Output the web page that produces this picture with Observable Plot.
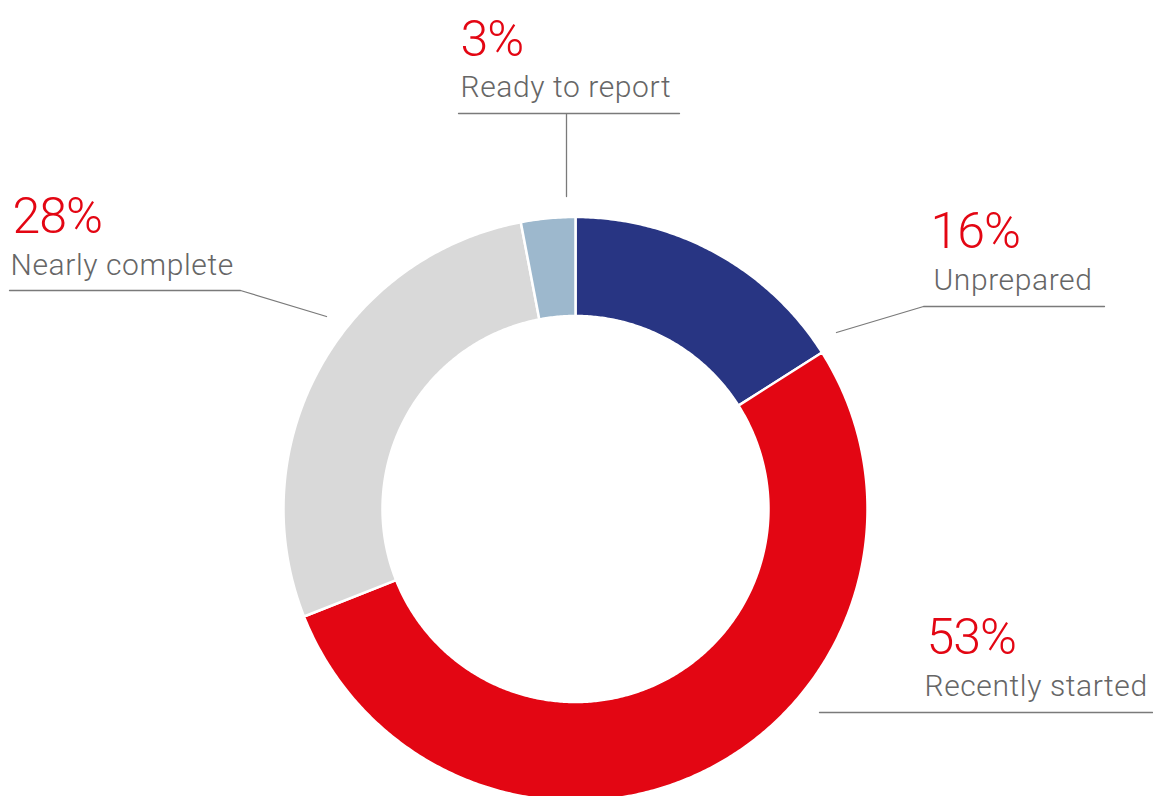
<!DOCTYPE html>
<html>
<head>
<meta charset="utf-8">
<script src="https://cdn.jsdelivr.net/npm/d3@7"></script>
<script src="https://cdn.jsdelivr.net/npm/@observablehq/plot@0.6"></script>
<style>
  html, body { margin: 0; padding: 0; background: #fff; }
  #chart svg { display: block; }
  .pct text { letter-spacing: -1px; }
  .cat text { letter-spacing: 0.6px; }
</style>
</head>
<body>
<div id="chart"></div>
<script>
// ---- Data ----
const categories = ["Unprepared", "Recently started", "Nearly complete", "Ready to report"];
const values = [16, 53, 28, 3];
const percentLabels = ["16%", "53%", "28%", "3%"];
const colors = ["#283583", "#e30613", "#d9d9d9", "#9db8cd"];

// ---- Layout (pixel space) ----
const W = 1153, H = 796;
const cx = 575.5, cy = 509, rOuter = 292, rInner = 193;
const labelPos = {
  "Unprepared":       {x: 930, pctY: 247, txtX: 933, txtY: 289, line: [[1104, 306], [923, 306], [836, 332]]},
  "Recently started": {x: 926, pctY: 653, txtX: 924, txtY: 695, line: [[1152, 712], [819, 712]]},
  "Nearly complete":  {x: 12,  pctY: 232, txtX: 10,  txtY: 274, line: [[9, 290], [240, 290], [326, 316]]},
  "Ready to report":  {x: 460, pctY: 55,  txtX: 460, txtY: 96,  line: [[458, 113], [679, 113], [566, 113], [566, 196]]}
};

const pie = d3.pie().sort(null).startAngle(0).endAngle(2 * Math.PI);
const arcs = pie(values);

// ring segment geometry sampled along each arc
const ring = [];
arcs.forEach((a, i) => {
  const n = Math.max(2, Math.ceil((a.endAngle - a.startAngle) / (Math.PI / 360)));
  for (let k = 0; k <= n; k++) {
    const t = a.startAngle + (a.endAngle - a.startAngle) * k / n;
    ring.push({
      cat: categories[i],
      xi: cx + rInner * Math.sin(t), yi: cy - rInner * Math.cos(t),
      xo: cx + rOuter * Math.sin(t), yo: cy - rOuter * Math.cos(t)
    });
  }
});

const labels = categories.map((c, i) => ({cat: c, pct: percentLabels[i], ...labelPos[c]}));
const leaders = [];
labels.forEach(l => l.line.forEach(([x, y], k) => leaders.push({cat: l.cat, x, y, k})));

const chart = Plot.plot({
  width: W, height: H,
  margin: 0,
  x: {domain: [0, W], range: [0, W], axis: null},
  y: {domain: [0, H], range: [0, H], axis: null},
  color: {domain: categories, range: colors},
  style: {background: "#fff", fontFamily: "Roboto, sans-serif"},
  marks: [
    Plot.area(ring, {x1: "xi", y1: "yi", x2: "xo", y2: "yo", z: "cat", fill: "cat", stroke: "#fff", strokeWidth: 2.5, curve: "linear"}),
    Plot.line(leaders, {x: "x", y: "y", z: "cat", stroke: "#7a7a7a", strokeWidth: 1.3}),
    Plot.text(labels, {x: "x", y: "pctY", text: "pct", textAnchor: "start", lineAnchor: "bottom", fill: "#e30613", fontSize: 50, fontWeight: 300, className: "pct"}),
    Plot.text(labels, {x: "txtX", y: "txtY", text: "cat", textAnchor: "start", lineAnchor: "bottom", fill: "#666666", fontSize: 30, fontWeight: 300, className: "cat"})
  ]
});
document.getElementById("chart").appendChild(chart);
</script>
</body>
</html>
